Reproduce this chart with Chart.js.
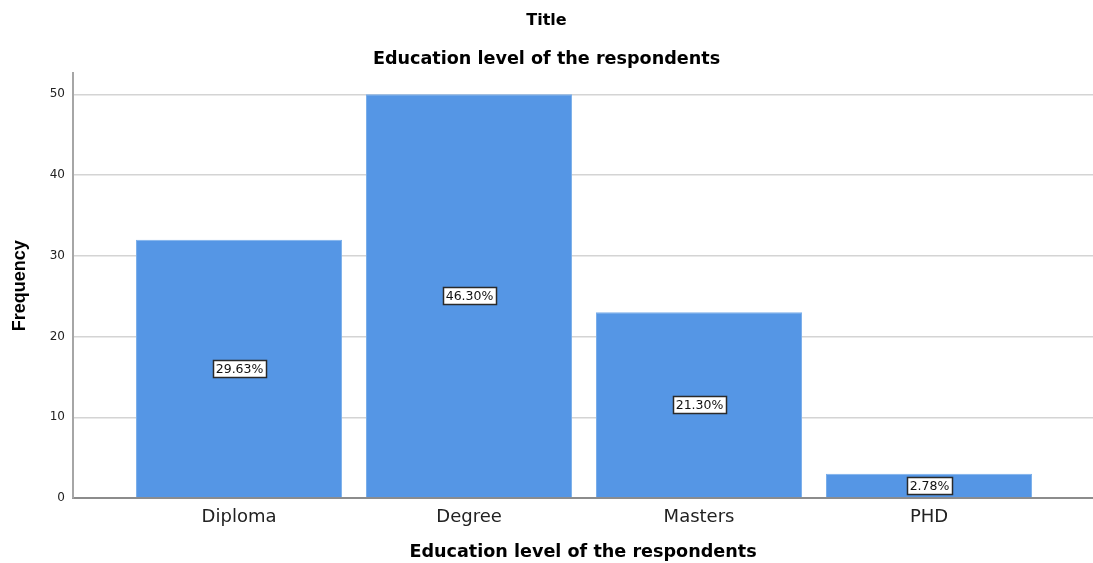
<!DOCTYPE html>
<html>
<head>
<meta charset="utf-8">
<script src="https://cdn.jsdelivr.net/npm/chart.js@4/dist/chart.umd.min.js"></script>
<style>
  html, body { margin: 0; padding: 0; background: #fff; }
  #wrap { width: 1093px; height: 563px; }
</style>
</head>
<body>
<div id="wrap"><canvas id="eduChart"></canvas></div>
<script>
// data
const categories = ['Diploma', 'Degree', 'Masters', 'PHD'];
const frequencies = [32, 50, 23, 3];
const percentLabels = ['29.63%', '46.30%', '21.30%', '2.78%'];
const yTickValues = [0, 10, 20, 30, 40, 50];

const FONT = '"DejaVu Sans", "Liberation Sans", Arial, sans-serif';
const FONT_V = '"Liberation Sans", Arial, sans-serif';

// bar labels: white box with dark border at the middle of each bar
const boxLabels = {
    id: 'boxLabels',
    afterDatasetsDraw(chart) {
        const ctx = chart.ctx;
        const meta = chart.getDatasetMeta(0);
        ctx.save();
        ctx.font = '12.5px ' + FONT;
        ctx.textAlign = 'center';
        ctx.textBaseline = 'middle';
        meta.data.forEach((bar, i) => {
            const text = percentLabels[i];
            const cy = (bar.y + bar.base) / 2;
            const w = Math.round(ctx.measureText(text).width + 5);
            const h = 17;
            const x0 = Math.round(bar.x - w / 2);
            const y0 = Math.round(cy - h / 2);
            ctx.fillStyle = '#fff';
            ctx.fillRect(x0, y0, w, h);
            ctx.strokeStyle = '#2a2a2a';
            ctx.lineWidth = 1.5;
            ctx.strokeRect(x0 + 0.5, y0 + 0.5, w, h);
            ctx.fillStyle = '#111';
            ctx.fillText(text, bar.x + 0.5, cy + 1);
        });
        ctx.restore();
    }
};

new Chart(document.getElementById('eduChart'), {
    type: 'bar',
    data: {
        datasets: [{
            data: frequencies.map((v, i) => ({ x: i + 1, y: v })),
            backgroundColor: '#5596e5',
            borderColor: '#7aaeea',
            borderWidth: 1,
            barPercentage: 0.896,
            categoryPercentage: 1
        }]
    },
    options: {
        responsive: true,
        maintainAspectRatio: false,
        animation: false,
        layout: { padding: { left: 0, right: 0, top: 0, bottom: 0 } },
        plugins: {
            legend: { display: false },
            tooltip: { enabled: false },
            title: {
                display: true,
                text: 'Title',
                color: '#000',
                font: { family: FONT, size: 16, weight: 'bold' },
                padding: { top: 11, bottom: 19 }
            },
            subtitle: {
                display: true,
                text: 'Education level of the respondents',
                color: '#000',
                font: { family: FONT, size: 17.6, weight: 'bold' },
                padding: { top: 0, bottom: 3 }
            }
        },
        scales: {
            x: {
                type: 'linear',
                offset: false,
                min: 0.278,
                max: 4.713,
                afterBuildTicks(scale) {
                    scale.ticks = categories.map((c, i) => ({ value: i + 1 }));
                },
                afterFit(scale) { scale.height = 65; },
                grid: { display: false, drawTicks: false },
                border: { display: true, color: '#8c8c8c', width: 2 },
                ticks: {
                    autoSkip: false,
                    maxRotation: 0,
                    padding: 9,
                    color: '#222',
                    font: { family: FONT, size: 18 },
                    callback: (v) => categories[v - 1] || ''
                },
                title: {
                    display: true,
                    text: 'Education level of the respondents',
                    color: '#000',
                    font: { family: FONT, size: 17.6, weight: 'bold' },
                    padding: { top: 4, bottom: 0 }
                }
            },
            y: {
                min: 0,
                max: 52.6,
                afterBuildTicks(scale) {
                    scale.ticks = yTickValues.map(v => ({ value: v }));
                },
                afterFit(scale) { scale.width = 73; },
                grid: { color: '#d4d4d4', lineWidth: 1.5, drawTicks: false },
                border: { display: true, color: '#a6a6a6', width: 2 },
                ticks: {
                    padding: 8,
                    color: '#222',
                    font: { family: FONT, size: 12 }
                },
                title: {
                    display: true,
                    text: 'Frequency',
                    color: '#000',
                    font: { family: FONT_V, size: 18, weight: 'bold' },
                    padding: { top: 9, bottom: 0 }
                }
            }
        }
    },
    plugins: [boxLabels]
});
</script>
</body>
</html>
